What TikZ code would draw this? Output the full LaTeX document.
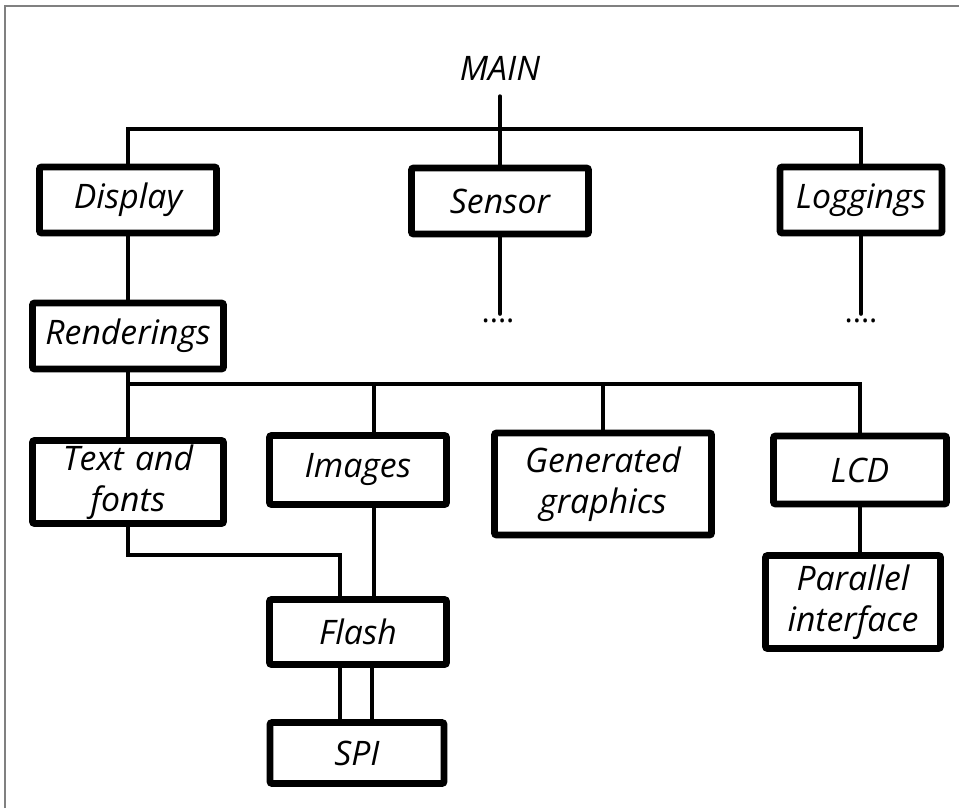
\documentclass[tikz,border=0pt]{standalone}
\usepackage{fontspec}
\setmainfont{Open Sans}
\usetikzlibrary{positioning}

\tikzset{
  box/.style={draw, line width=4.8pt, rounded corners=1.5pt, inner sep=0pt,
    align=center, font=\fontsize{24}{29}\selectfont\itshape},
  wire/.style={line width=2.8pt, line cap=round},
  dots/.style={inner sep=0pt, anchor=base, font=\fontsize{22}{24}\selectfont}
}

\begin{document}
\begin{tikzpicture}[x=0.025cm, y=-0.025cm]
    \useasboundingbox (0,0) rectangle (959,808);
    % frame
    \draw[gray, line width=0.8pt] (5,808) |- (959,6);

    % top level
    \node[font=\fontsize{24}{29}\selectfont\itshape] (main) at (500,68) {MAIN};
    \node[box, minimum width=4.425cm, minimum height=1.65cm] (display) at (128,200) {Display};
    \node[box, minimum width=4.425cm, minimum height=1.65cm] (sensor) at (500,201) {Sensor};
    \node[box, minimum width=4.05cm, minimum height=1.65cm] (logging) at (861,200) {Loggings};
    \node[dots] (sensordots) at (498,322) {....};
    \node[dots] (logdots) at (861,322) {....};

    % display subtree
    \node[box, minimum width=4.775cm, minimum height=1.65cm] (render) at (128,336) {Renderings};
    \node[box, text width=4.6cm, minimum width=4.775cm, minimum height=2.075cm] (textfonts) at (128,482) {Text and\\fonts};
    \node[box, minimum width=4.425cm, minimum height=1.725cm] (images) at (358,470) {Images};
    \node[box, text width=5.3cm, minimum width=5.425cm, minimum height=2.55cm] (gengfx) at (603,484) {Generated\\graphics};
    \node[box, minimum width=4.325cm, minimum height=1.7cm] (lcd) at (860,470) {LCD};
    \node[box, text width=4.3cm, minimum width=4.375cm, minimum height=2.325cm] (parallel) at (853,602) {Parallel\\interface};
    \node[box, minimum width=4.425cm, minimum height=1.625cm] (flash) at (358,632) {Flash};
    \node[box, minimum width=4.35cm, minimum height=1.525cm] (spi) at (357,753) {SPI};

    \coordinate (bus1) at (500,129);
    \coordinate (bus2) at (500,384);

    % connections
    \draw[wire, shorten <=8pt] (main.south) -- (sensor.north);
    \draw[wire] (display.north) |- (bus1) -| (logging.north);
    \draw[wire, shorten >=3pt] (sensor.south) -- (sensor.south |- sensordots.north);
    \draw[wire, shorten >=3pt] (logging.south) -- (logging.south |- logdots.north);
    \draw[wire] (display.south) -- (render.north);
    \draw[wire] (render.south) -- (textfonts.north);
    \draw[wire] (textfonts.north) |- (bus2) -| (lcd.north);
    \draw[wire] ([xshift=0.4cm]images.north) -- ([xshift=0.4cm]images.north |- bus2);
    \draw[wire] (gengfx.north) -- (gengfx.north |- bus2);
    \draw[wire] (lcd.south) -- (lcd.south |- parallel.north);
    \draw[wire] (textfonts.south) -- ++(0,28) -| ([xshift=-0.45cm]flash.north);
    \draw[wire] ([xshift=0.4cm]images.south) -- ([xshift=0.4cm]flash.north);
    \draw[wire] ([xshift=-0.45cm]flash.south) -- ([xshift=-0.45cm]flash.south |- spi.north);
    \draw[wire] ([xshift=0.35cm]flash.south) -- ([xshift=0.35cm]flash.south |- spi.north);
\end{tikzpicture}
\end{document}
